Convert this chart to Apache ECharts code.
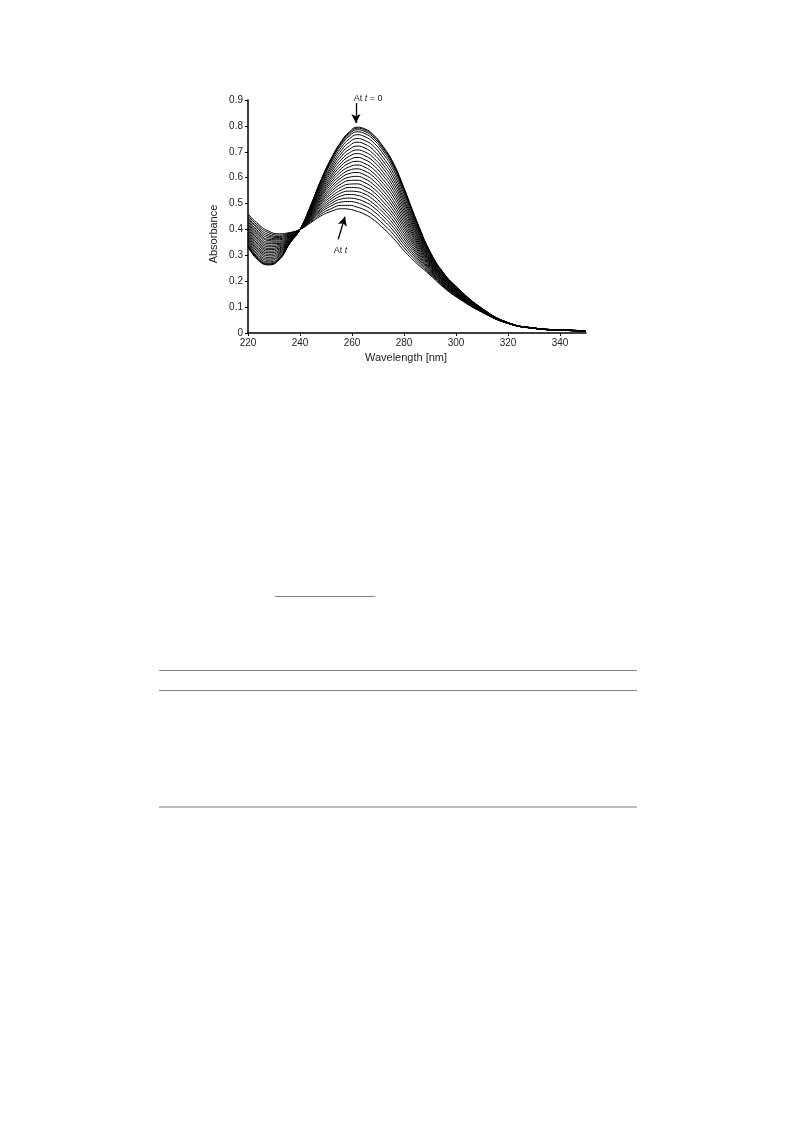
<!DOCTYPE html>
<html><head><meta charset="utf-8">
<script src="https://cdn.jsdelivr.net/npm/echarts@6/dist/echarts.min.js"></script>
<style>
html,body{margin:0;padding:0;background:#fff;}
#page{position:relative;width:793px;height:1121px;overflow:hidden;background:#fff;}
#chart{position:absolute;left:0;top:0;width:793px;height:400px;}
.rule{position:absolute;}
</style></head><body>
<div id="page">
<div id="chart"></div>
<div class="rule" style="left:275px;top:596px;width:100px;height:1px;background:#858585"></div>
<div class="rule" style="left:159px;top:670px;width:478px;height:1px;background:#808080"></div>
<div class="rule" style="left:159px;top:690px;width:478px;height:1px;background:#808080"></div>
<div class="rule" style="left:159px;top:806px;width:478px;height:2px;background:#bdbdbd"></div>
</div>
<script>
// wavelengths (nm)
const wavelengths = [220,224,228,232,236,240,244,248,252,256,259,262,265,268,272,276,280,285,290,295,300,310,320,330,340,350];
// absorbance spectra, from t = 0 (s00) to final time t (s24)
const s00 = [0.333,0.280,0.263,0.283,0.345,0.400,0.490,0.590,0.675,0.742,0.777,0.795,0.788,0.768,0.720,0.655,0.560,0.430,0.315,0.235,0.180,0.095,0.040,0.019,0.012,0.009];
const s01 = [0.335,0.282,0.265,0.284,0.346,0.400,0.489,0.588,0.673,0.739,0.773,0.791,0.784,0.764,0.716,0.652,0.557,0.428,0.314,0.234,0.180,0.095,0.040,0.019,0.012,0.009];
const s02 = [0.337,0.284,0.267,0.286,0.346,0.400,0.488,0.586,0.669,0.734,0.768,0.785,0.778,0.758,0.711,0.646,0.553,0.425,0.312,0.233,0.179,0.095,0.040,0.019,0.012,0.009];
const s03 = [0.340,0.288,0.270,0.289,0.347,0.400,0.486,0.582,0.664,0.728,0.761,0.777,0.770,0.750,0.703,0.639,0.547,0.421,0.310,0.232,0.178,0.094,0.040,0.019,0.012,0.009];
const s04 = [0.344,0.293,0.275,0.292,0.349,0.400,0.484,0.578,0.657,0.718,0.750,0.766,0.758,0.738,0.692,0.629,0.538,0.415,0.307,0.230,0.176,0.094,0.040,0.019,0.012,0.009];
const s05 = [0.350,0.299,0.281,0.297,0.351,0.400,0.481,0.571,0.647,0.707,0.737,0.751,0.743,0.724,0.677,0.616,0.527,0.408,0.303,0.227,0.175,0.093,0.040,0.019,0.012,0.009];
const s06 = [0.356,0.305,0.286,0.301,0.353,0.400,0.478,0.565,0.638,0.695,0.723,0.737,0.729,0.709,0.663,0.603,0.516,0.401,0.299,0.225,0.173,0.092,0.039,0.019,0.012,0.009];
const s07 = [0.362,0.312,0.292,0.306,0.355,0.400,0.475,0.559,0.629,0.683,0.710,0.722,0.714,0.694,0.649,0.590,0.506,0.394,0.295,0.222,0.171,0.092,0.039,0.019,0.012,0.009];
const s08 = [0.367,0.318,0.298,0.310,0.357,0.400,0.472,0.553,0.620,0.671,0.696,0.707,0.699,0.679,0.635,0.577,0.495,0.386,0.290,0.220,0.169,0.091,0.039,0.019,0.012,0.009];
const s09 = [0.373,0.324,0.304,0.315,0.359,0.400,0.470,0.547,0.610,0.659,0.683,0.693,0.684,0.665,0.621,0.564,0.484,0.379,0.286,0.217,0.167,0.090,0.039,0.019,0.012,0.009];
const s10 = [0.379,0.330,0.310,0.319,0.361,0.400,0.467,0.540,0.601,0.648,0.669,0.678,0.669,0.650,0.607,0.551,0.473,0.372,0.282,0.214,0.166,0.090,0.039,0.019,0.012,0.009];
const s11 = [0.384,0.337,0.316,0.324,0.362,0.400,0.464,0.534,0.592,0.636,0.656,0.663,0.654,0.635,0.592,0.538,0.462,0.364,0.278,0.212,0.164,0.089,0.039,0.019,0.012,0.009];
const s12 = [0.390,0.343,0.322,0.328,0.364,0.400,0.461,0.528,0.583,0.624,0.642,0.649,0.640,0.620,0.578,0.525,0.451,0.357,0.274,0.209,0.162,0.088,0.039,0.019,0.012,0.009];
const s13 = [0.396,0.349,0.327,0.333,0.366,0.400,0.458,0.522,0.574,0.612,0.629,0.634,0.625,0.606,0.564,0.511,0.440,0.350,0.270,0.207,0.160,0.088,0.039,0.019,0.012,0.009];
const s14 = [0.402,0.356,0.333,0.337,0.368,0.400,0.455,0.515,0.564,0.601,0.616,0.620,0.610,0.591,0.550,0.498,0.429,0.343,0.266,0.204,0.158,0.087,0.038,0.018,0.011,0.008];
const s15 = [0.407,0.362,0.339,0.342,0.370,0.400,0.452,0.509,0.555,0.589,0.602,0.605,0.595,0.576,0.536,0.485,0.418,0.335,0.262,0.202,0.157,0.086,0.038,0.018,0.011,0.008];
const s16 = [0.413,0.368,0.345,0.346,0.372,0.400,0.449,0.503,0.546,0.577,0.589,0.590,0.580,0.561,0.522,0.472,0.408,0.328,0.258,0.199,0.155,0.086,0.038,0.018,0.011,0.008];
const s17 = [0.419,0.375,0.351,0.351,0.374,0.400,0.446,0.497,0.537,0.565,0.575,0.576,0.565,0.547,0.507,0.459,0.397,0.321,0.254,0.197,0.153,0.085,0.038,0.018,0.011,0.008];
const s18 = [0.424,0.381,0.357,0.355,0.376,0.400,0.443,0.491,0.527,0.553,0.562,0.561,0.550,0.532,0.493,0.446,0.386,0.313,0.249,0.194,0.151,0.084,0.038,0.018,0.011,0.008];
const s19 = [0.430,0.387,0.362,0.360,0.378,0.400,0.440,0.484,0.518,0.542,0.548,0.546,0.536,0.517,0.479,0.433,0.375,0.306,0.245,0.191,0.149,0.084,0.038,0.018,0.011,0.008];
const s20 = [0.436,0.393,0.368,0.364,0.380,0.400,0.437,0.478,0.509,0.530,0.535,0.532,0.521,0.502,0.465,0.420,0.364,0.299,0.241,0.189,0.148,0.083,0.038,0.018,0.011,0.008];
const s21 = [0.442,0.400,0.374,0.369,0.382,0.400,0.434,0.472,0.500,0.518,0.521,0.517,0.506,0.488,0.451,0.407,0.353,0.291,0.237,0.186,0.146,0.082,0.037,0.018,0.011,0.008];
const s22 = [0.447,0.406,0.380,0.373,0.384,0.400,0.432,0.466,0.491,0.506,0.508,0.503,0.491,0.473,0.437,0.394,0.342,0.284,0.233,0.184,0.144,0.082,0.037,0.018,0.011,0.008];
const s23 = [0.454,0.413,0.387,0.378,0.386,0.400,0.428,0.459,0.480,0.493,0.493,0.486,0.475,0.456,0.421,0.380,0.330,0.276,0.229,0.181,0.142,0.081,0.037,0.018,0.011,0.008];
const s24 = [0.460,0.420,0.393,0.383,0.388,0.400,0.425,0.452,0.470,0.480,0.478,0.470,0.458,0.440,0.405,0.365,0.318,0.268,0.224,0.178,0.140,0.080,0.037,0.018,0.011,0.008];
const spectra = [s00,s01,s02,s03,s04,s05,s06,s07,s08,s09,s10,s11,s12,s13,s14,s15,s16,s17,s18,s19,s20,s21,s22,s23,s24];

// tick labels
const xTicks = [220,240,260,280,300,320,340];
const yTicks = [0,0.1,0.2,0.3,0.4,0.5,0.6,0.7,0.8,0.9];

// annotation anchors in data space [wavelength, absorbance]
const arrowT0 = [[261.5, 0.888], [261.5, 0.811]];
const arrowT = [[254.7, 0.362], [257.3, 0.449]];
const labelT0 = [266.2, 0.907];
const labelT = [255.6, 0.318];

const FONT = 'Liberation Sans, Arial, Helvetica, sans-serif';
const chart = echarts.init(document.getElementById('chart'), null, {renderer: 'canvas'});

const series = spectra.map((s) => ({
  type: 'line',
  data: wavelengths.map((w, j) => [w, s[j]]),
  showSymbol: false,
  smooth: 0.5,
  silent: true,
  animation: false,
  lineStyle: {color: '#000', width: 1},
  z: 2
}));
series[0].markLine = {
  silent: true,
  animation: false,
  symbol: ['none', 'arrow'],
  symbolSize: [7, 9],
  label: {show: false},
  lineStyle: {color: '#000', width: 1.3, type: 'solid'},
  data: [
    [{coord: arrowT0[0]}, {coord: arrowT0[1]}],
    [{coord: arrowT[0]}, {coord: arrowT[1]}]
  ]
};

const option = {
  animation: false,
  backgroundColor: '#fff',
  grid: {left: 248, top: 100, width: 338, height: 233, containLabel: false},
  xAxis: {
    type: 'value', min: 220, max: 350, interval: 20,
    axisLine: {show: true, onZero: false, lineStyle: {color: '#000', width: 1.5}},
    axisTick: {show: true, length: 3, lineStyle: {color: '#000', width: 1}, customValues: xTicks},
    axisLabel: {fontSize: 10, color: '#222', fontFamily: FONT, margin: 5, customValues: xTicks},
    splitLine: {show: false}
  },
  yAxis: {
    type: 'value', min: 0, max: 0.9, interval: 0.1,
    axisLine: {show: true, onZero: false, lineStyle: {color: '#000', width: 1.5}},
    axisTick: {show: true, length: 3, lineStyle: {color: '#000', width: 1}, customValues: yTicks},
    axisLabel: {fontSize: 10, color: '#222', fontFamily: FONT, margin: 5, customValues: yTicks,
      formatter: (v) => v === 0 ? '0' : v.toFixed(1)},
    splitLine: {show: false}
  },
  series: series
};
chart.setOption(option);

const p0 = chart.convertToPixel({gridIndex: 0}, labelT0);
const p1 = chart.convertToPixel({gridIndex: 0}, labelT);
chart.setOption({
  graphic: [
    {type: 'text', x: 214, y: 234, rotation: Math.PI / 2, silent: true,
      style: {text: 'Absorbance', fill: '#222', font: '11px ' + FONT, align: 'center', verticalAlign: 'middle'}},
    {type: 'text', x: 406, y: 358, silent: true,
      style: {text: 'Wavelength [nm]', fill: '#222', font: '11px ' + FONT, align: 'center', verticalAlign: 'middle'}},
    {type: 'text', x: p0[0], y: p0[1], silent: true,
      style: {text: '{a|At }{b|t}{a| = 0}', align: 'center', verticalAlign: 'middle',
        rich: {a: {fontSize: 9, fontFamily: FONT, fill: '#222', color: '#222'},
               b: {fontSize: 9, fontFamily: FONT, fontStyle: 'italic', fill: '#222', color: '#222'}}}},
    {type: 'text', x: p1[0], y: p1[1], silent: true,
      style: {text: '{a|At }{b|t}', align: 'center', verticalAlign: 'middle',
        rich: {a: {fontSize: 9, fontFamily: FONT, fill: '#222', color: '#222'},
               b: {fontSize: 9, fontFamily: FONT, fontStyle: 'italic', fill: '#222', color: '#222'}}}}
  ]
});
</script>
</body></html>
